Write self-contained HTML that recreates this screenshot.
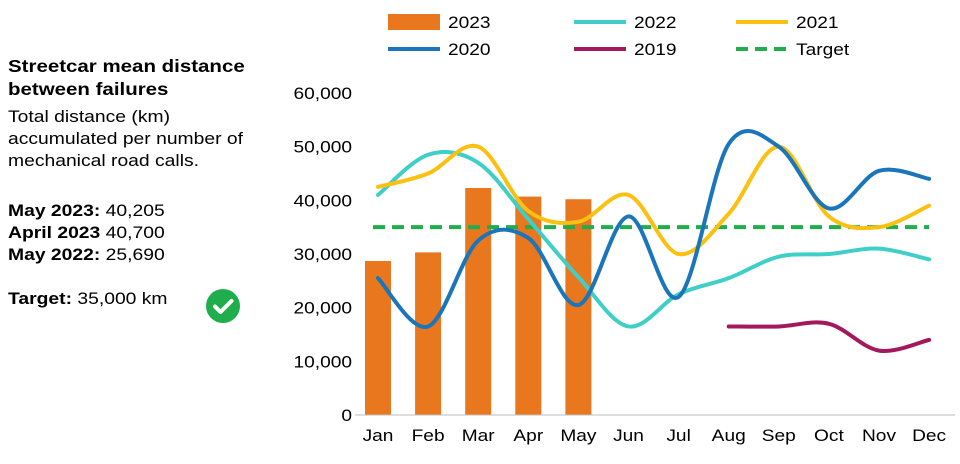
<!DOCTYPE html>
<html><head><meta charset="utf-8"><style>
body{margin:0;width:960px;height:464px;background:#fff;font-family:"Liberation Sans",Arial,sans-serif;overflow:hidden}
.t{position:absolute;left:8px;color:#000;font-size:16.5px;white-space:nowrap;transform:scaleX(1.17);transform-origin:0 0}
</style></head><body>
<div class="t" style="top:55px;font-weight:bold;font-size:17.5px;line-height:23px">Streetcar mean distance<br>between failures</div>
<div class="t" style="top:106px;line-height:22px">Total distance (km)<br>accumulated per number of<br>mechanical road calls.</div>
<div class="t" style="top:200px;line-height:22px"><b>May 2023:</b> 40,205<br><b>April 2023</b> 40,700<br><b>May 2022:</b> 25,690</div>
<div class="t" style="top:290px"><b>Target:</b> 35,000 km</div>
<svg style="position:absolute;left:206px;top:289px" width="34" height="34"><circle cx="17" cy="17" r="17" fill="#1fae4b"/><path d="M9 17.5l5.5 5.5 11-11" stroke="#fff" stroke-width="4" fill="none" stroke-linecap="round" stroke-linejoin="round"/></svg>
<svg id="c" style="position:absolute;left:0;top:0" width="960" height="464"></svg>
<script>
const months=["Jan","Feb","Mar","Apr","May","Jun","Jul","Aug","Sep","Oct","Nov","Dec"];
const yTicks=[0,10000,20000,30000,40000,50000,60000];
const s2023=[28700,30300,42300,40700,40205];
const s2022=[41000,48500,47000,36500,25690,16500,22500,25500,29500,30000,31000,29000];
const s2021=[42500,45000,50000,38000,36000,41000,30000,37500,50000,37000,35000,39000];
const s2020=[25500,16500,32500,33000,20500,37000,22000,50500,50000,38500,45500,44000];
const s2019=[null,null,null,null,null,null,null,16500,16500,17000,12000,14000];
const target=35000;
const svg=document.getElementById('c'),NS="http://www.w3.org/2000/svg";
const X=i=>378+i*50.1, Y=v=>415-v*322/60000;
function el(t,a,p){const e=document.createElementNS(NS,t);for(const k in a)e.setAttribute(k,a[k]);(p||svg).appendChild(e);return e;}
function txt(s,x,y,anchor,p){const t=el('text',{x:0,y:0,transform:`translate(${x},${y}) scale(1.16,1)`,'text-anchor':anchor,'font-size':16.5,fill:'#000'},p);t.textContent=s;return t;}
yTicks.forEach(v=>{const t=txt(v.toLocaleString('en-US'),352,Y(v)+6,'end');
});
months.forEach((m,i)=>{const t=txt(m,X(i),441,'middle');
});
s2023.forEach((v,i)=>{const r=el('rect',{x:X(i)-13,y:Y(v),width:26,height:Y(0)-Y(v),fill:'#e8771d'});
});
const ax=el('line',{x1:355,x2:955,y1:415,y2:415,stroke:'#bfbfbf','stroke-width':1});

function curve(arr,color,name){const p=[];arr.forEach((v,i)=>{if(v!=null)p.push([X(i),Y(v)])});
let d='M'+p[0][0]+','+p[0][1];
for(let i=0;i<p.length-1;i++){const p0=p[i-1]||p[i],p1=p[i],p2=p[i+1],p3=p[i+2]||p2;
d+=`C${p1[0]+(p2[0]-p0[0])/6},${p1[1]+(p2[1]-p0[1])/6} ${p2[0]-(p3[0]-p1[0])/6},${p2[1]-(p3[1]-p1[1])/6} ${p2[0]},${p2[1]}`;}
const e=el('path',{d,stroke:color,'stroke-width':4,fill:'none','stroke-linecap':'round'});
}
const tl=el('line',{x1:X(0)-5,x2:X(11),y1:Y(target),y2:Y(target),stroke:'#1fae4b','stroke-width':4,'stroke-dasharray':'12 7'});

curve(s2022,'#3fcfc8','line-2022');
curve(s2021,'#fcc010','line-2021');
curve(s2020,'#1a75bb','line-2020');
curve(s2019,'#a3195b','line-2019');
const leg=[["2023",388,22,'bar','#e8771d'],["2022",574,22,'line','#3fcfc8'],["2021",736,22,'line','#fcc010'],
["2020",388,49,'line','#1a75bb'],["2019",574,49,'line','#a3195b'],["Target",736,49,'dash','#1fae4b']];
leg.forEach(l=>{const g=el('g',{});
if(l[3]=='bar')el('rect',{x:l[1],y:l[2]-8,width:52,height:16,fill:l[4]},g);
else el('line',{x1:l[1],x2:l[1]+52,y1:l[2],y2:l[2],stroke:l[4],'stroke-width':4,'stroke-dasharray':l[3]=='dash'?'12 7':'none'},g);
txt(l[0],l[1]+60,l[2]+6,'start',g);});
</script></body></html>
